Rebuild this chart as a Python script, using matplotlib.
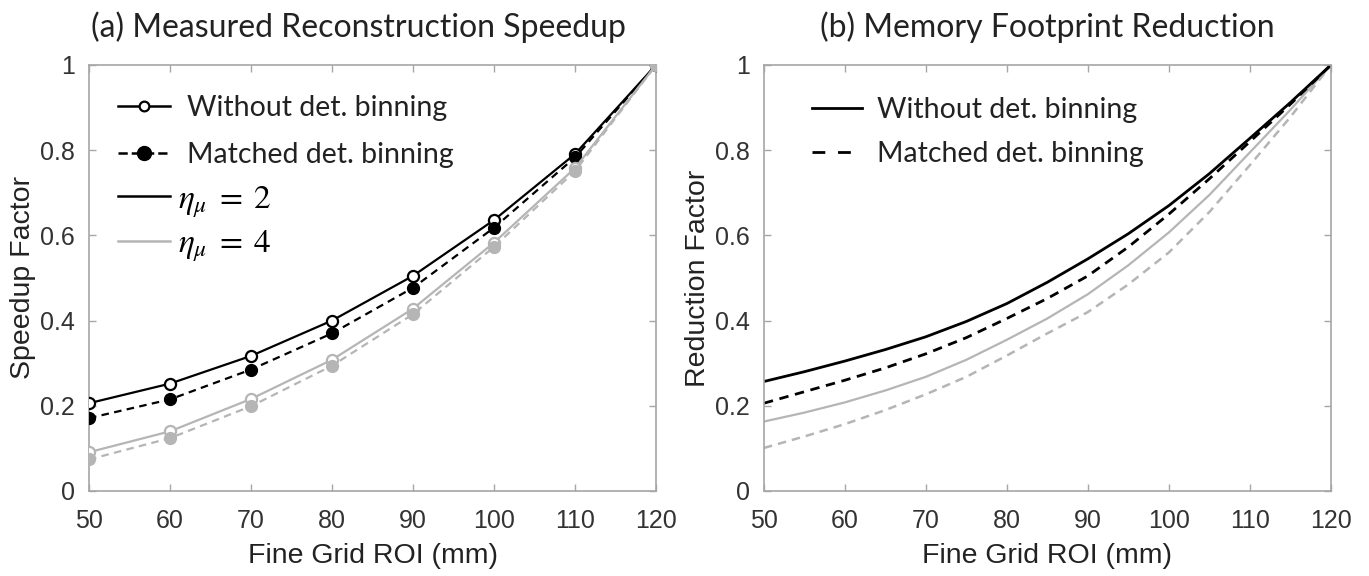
import matplotlib
matplotlib.use("Agg")
import matplotlib.pyplot as plt
from matplotlib.lines import Line2D

plt.rcParams["mathtext.fontset"] = "stix"

# ----------------------------------------------------
# DATA
# ----------------------------------------------------

roi_measured = [50, 60, 70, 80, 90, 100, 110, 120]

speedup_eta2_nobin = [0.206, 0.252, 0.317, 0.400, 0.505, 0.636, 0.791, 1.0]
speedup_eta2_match = [0.171, 0.215, 0.285, 0.370, 0.477, 0.618, 0.783, 1.0]
speedup_eta4_nobin = [0.091, 0.140, 0.216, 0.308, 0.428, 0.583, 0.758, 1.0]
speedup_eta4_match = [0.074, 0.124, 0.199, 0.294, 0.415, 0.573, 0.751, 1.0]

roi_model = [50, 55, 60, 65, 70, 75, 80, 85, 90, 95, 100, 105, 110, 115, 120]

memory_eta2_nobin = [0.257, 0.280, 0.305, 0.332, 0.362, 0.398, 0.440, 0.490,
                     0.545, 0.604, 0.670, 0.745, 0.828, 0.912, 1.0]
memory_eta2_match = [0.206, 0.233, 0.260, 0.289, 0.322, 0.360, 0.405, 0.452,
                     0.505, 0.573, 0.650, 0.733, 0.820, 0.908, 1.0]
memory_eta4_nobin = [0.163, 0.184, 0.208, 0.236, 0.268, 0.308, 0.355, 0.405,
                     0.462, 0.530, 0.607, 0.695, 0.795, 0.895, 1.0]
memory_eta4_match = [0.101, 0.128, 0.157, 0.190, 0.227, 0.268, 0.318, 0.370,
                     0.420, 0.485, 0.560, 0.655, 0.765, 0.878, 1.0]

x_ticks = [50, 60, 70, 80, 90, 100, 110, 120]
y_ticks = [0, 0.2, 0.4, 0.6, 0.8, 1]
y_tick_labels = ["0", "0.2", "0.4", "0.6", "0.8", "1"]

BLACK = "#000000"
GRAY = "#b5b5b5"
SPINE = "#a6a6a6"
TICK_TXT = "#333333"
DASH = (3.4, 2.4)
LEG_DASH = (4.6, 4.6)


def style_axes(ax, ylabel):
    ax.set_xlim(50, 120)
    ax.set_ylim(0, 1)
    ax.set_xticks(x_ticks)
    ax.set_yticks(y_ticks)
    ax.set_yticklabels(y_tick_labels)
    for s in ax.spines.values():
        s.set_color(SPINE)
        s.set_linewidth(1.2)
    ax.tick_params(direction="in", length=5, width=1, color=SPINE,
                   top=True, right=True, labelsize=18, labelcolor=TICK_TXT)
    ax.tick_params(axis="x", pad=13)
    ax.tick_params(axis="y", pad=10)
    for lab in ax.get_xticklabels() + ax.get_yticklabels():
        lab.set_family("Liberation Sans")
    ax.set_xlabel("Fine Grid ROI (mm)", fontsize=20.5, family="Liberation Sans",
                  color="#222222", labelpad=7)
    ax.set_ylabel(ylabel, fontsize=20.5, family="Liberation Sans",
                  color="#222222", labelpad=3)


fig = plt.figure(figsize=(13.69, 5.76), dpi=100)
ax_a = fig.add_axes([0.065, 0.1476, 0.4142, 0.7396])
ax_b = fig.add_axes([0.558, 0.1476, 0.4142, 0.7396])

# ----------------------------------------------------
# (a) measured speedup
# ----------------------------------------------------
ax_a.plot(roi_measured, speedup_eta2_nobin, color=BLACK, lw=1.6, marker="o",
          ms=8, mfc="white", mec=BLACK, mew=1.6, zorder=4)
l, = ax_a.plot(roi_measured, speedup_eta2_match, color=BLACK, lw=1.6,
               ls="--", marker="o", ms=8.5, mfc=BLACK, mec=BLACK, zorder=4)
l.set_dashes(DASH)
ax_a.plot(roi_measured, speedup_eta4_nobin, color=GRAY, lw=1.6, marker="o",
          ms=8, mfc="white", mec=GRAY, mew=1.6, zorder=5)
l, = ax_a.plot(roi_measured, speedup_eta4_match, color=GRAY, lw=1.6,
               ls="--", marker="o", ms=8.5, mfc=GRAY, mec=GRAY, zorder=5)
l.set_dashes(DASH)

style_axes(ax_a, "Speedup Factor")

h1 = Line2D([], [], color=BLACK, lw=1.8, marker="o", ms=7, mfc="white",
            mec=BLACK, mew=1.6)
h2 = Line2D([], [], color=BLACK, lw=1.8, ls="--", marker="o", ms=10,
            mfc=BLACK, mec=BLACK)
leg1 = ax_a.legend([h1, h2], ["Without det. binning", "Matched det. binning"],
                   loc="upper left", bbox_to_anchor=(0.052, 0.93),
                   frameon=False, borderpad=0, borderaxespad=0,
                   handlelength=1.82, handletextpad=0.6, labelspacing=0.75,
                   prop={"family": "Lato", "size": 20.5})
for t in leg1.get_texts():
    t.set_color("#222222")
ax_a.add_artist(leg1)

h3 = Line2D([], [], color=BLACK, lw=1.8)
h4 = Line2D([], [], color=GRAY, lw=1.8)
leg2 = ax_a.legend([h3, h4], [r"$\eta_{\mu}\;=\;2$", r"$\eta_{\mu}\;=\;4$"],
                   loc="upper left", bbox_to_anchor=(0.052, 0.725),
                   frameon=False, borderpad=0, borderaxespad=0,
                   handlelength=1.55, handletextpad=0.25, labelspacing=0.22,
                   prop={"size": 24})

# ----------------------------------------------------
# (b) memory footprint
# ----------------------------------------------------
ax_b.plot(roi_model, memory_eta4_nobin, color=GRAY, lw=1.6)
l, = ax_b.plot(roi_model, memory_eta4_match, color=GRAY, lw=1.8)
l.set_dashes(DASH)
ax_b.plot(roi_model, memory_eta2_nobin, color=BLACK, lw=2.0)
l, = ax_b.plot(roi_model, memory_eta2_match, color=BLACK, lw=2.0)
l.set_dashes(DASH)

style_axes(ax_b, "Reduction Factor")

h5 = Line2D([], [], color=BLACK, lw=2.0)
h6 = Line2D([], [], color=BLACK, lw=2.0)
h6.set_dashes(LEG_DASH)
leg3 = ax_b.legend([h5, h6], ["Without det. binning", "Matched det. binning"],
                   loc="upper left", bbox_to_anchor=(0.085, 0.925),
                   frameon=False, borderpad=0, borderaxespad=0,
                   handlelength=1.76, handletextpad=0.52, labelspacing=0.65,
                   prop={"family": "Lato", "size": 20.5})
for t in leg3.get_texts():
    t.set_color("#222222")

# titles
fig.text(0.2615, 0.953, "(a) Measured Reconstruction Speedup", ha="center",
         va="center", fontsize=23, family="Lato", color="#222222")
fig.text(0.765, 0.953, "(b) Memory Footprint Reduction", ha="center",
         va="center", fontsize=23, family="Lato", color="#222222")

fig.savefig("out.png", dpi=100)
